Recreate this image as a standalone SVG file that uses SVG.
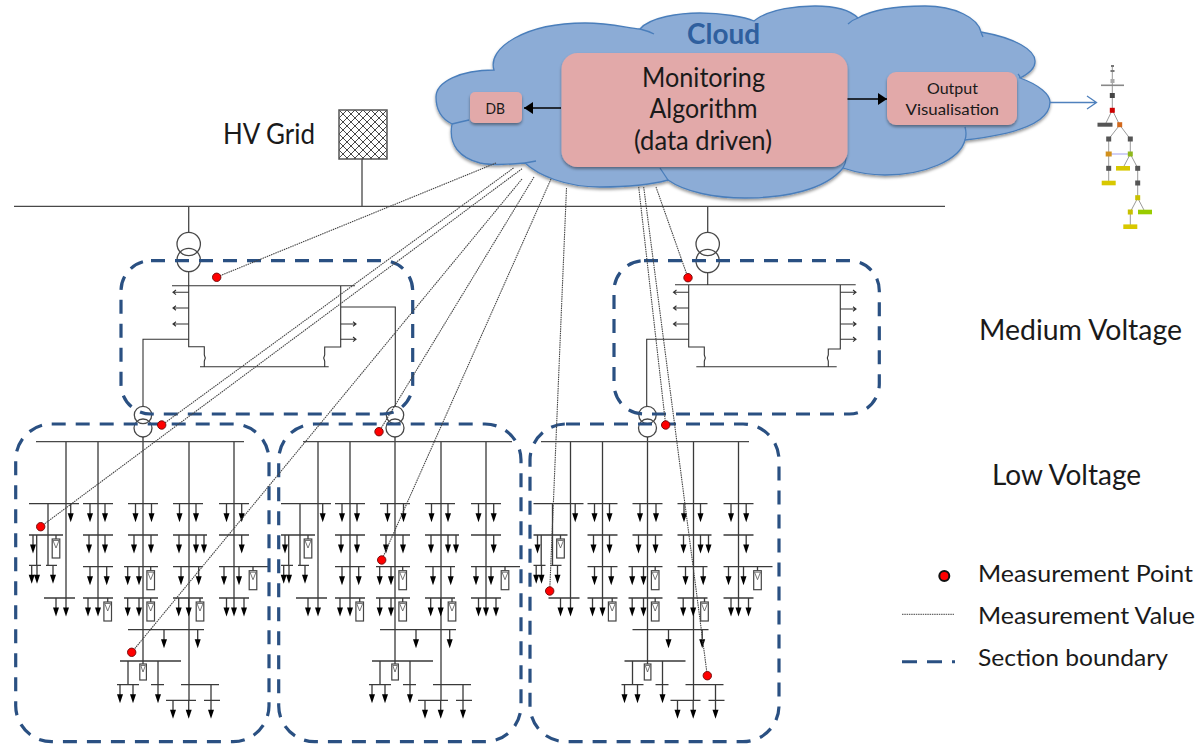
<svg xmlns="http://www.w3.org/2000/svg" width="1200" height="746" viewBox="0 0 1200 746">
<style>
text{font-family:"Lato","Noto Sans","Liberation Sans",sans-serif;fill:#1a1a1a}
.w{fill:none;stroke:#3a3a3a;stroke-width:1.3}
.t{fill:none;stroke:#484848;stroke-width:1.3}
.mv{fill:none;stroke:#333;stroke-width:1.1}
.sec{fill:none;stroke:#2a5082;stroke-width:3.2;stroke-dasharray:14 10}
.dot{fill:#f00;stroke:#7a1010;stroke-width:1}
.box{fill:#e2a9a9;filter:url(#sh)}
.lnk{stroke:#000;stroke-width:1.6;fill:none}
.tn{stroke:none}
</style>
<defs>
<filter id="sh" x="-10%" y="-10%" width="120%" height="125%"><feDropShadow dx="0" dy="2" stdDeviation="1.8" flood-color="#000" flood-opacity=".4"/></filter>
<filter id="bl" x="-10%" y="-10%" width="120%" height="120%"><feGaussianBlur stdDeviation=".6"/></filter>
<marker id="solid" markerUnits="userSpaceOnUse" markerWidth="10" markerHeight="12" refX="9" refY="6" orient="auto"><path d="M0 0L9 6L0 12Z" fill="#000"/></marker>
<pattern id="hatch" width="8" height="8" patternUnits="userSpaceOnUse" patternTransform="translate(339 110)"><rect width="8" height="8" fill="#fff"/><path d="M0 0L8 8M8 0L0 8" stroke="#333" stroke-width=".9"/></pattern>
<g id="a"><path d="M0 0V11" class="w"/><path d="M-3 9.500H3L0 18.500Z" fill="#000"/></g>
<g id="m"><path d="M0 0V4" class="w"/><rect x="-3.800" y="4" width="7.600" height="19" fill="#fff" stroke="#444" stroke-width="1.200"/><path d="M-3 5.500H3L0 13Z" fill="#fff" stroke="#555" stroke-width=".8"/></g>
<g id="lv-net">
<circle cx="143" cy="415" r="8.700" class="t"/><circle cx="143" cy="428" r="9" class="t"/>
<path class="w" d="M143 437V664M66 442V598M98 442V598M189 442V700.300M234 442V598
M29 503.700H79M48 503.700V565.300M83 503.700H113M128 503.700H158M173 503.700H203M219 503.700H249
M29 535H63M36.700 535V565.300M83 535H113M128 535H158M173 535H207M219 535H249
M29 565.300H41M46 565.300H57M83 566.700H113M124 566.700H158M173 566.700H203M219 566.700H268
M44 598H75M83 598H113M124 598H158M173 598H203M219 598H249
M128 629.700H204M120 661H181M128 661V684.700M158 661V684.700
M117 684.700H139M151 684.700H164M181 684.700H219M211 684.700V700.300M166 700.300H196M204 700.300H220"/>
<use href="#a" x="70.700" y="503.700"/><use href="#a" x="90" y="503.700"/><use href="#a" x="105" y="503.700"/><use href="#a" x="135.500" y="503.700"/><use href="#a" x="151.500" y="503.700"/><use href="#a" x="179.500" y="503.700"/><use href="#a" x="196" y="503.700"/><use href="#a" x="226.500" y="503.700"/><use href="#a" x="241.700" y="503.700"/>
<use href="#a" x="33" y="535"/><use href="#m" x="56" y="535"/><use href="#a" x="89" y="535"/><use href="#a" x="105" y="535"/><use href="#a" x="134" y="535"/><use href="#a" x="151" y="535"/><use href="#a" x="179" y="535"/><use href="#a" x="196" y="535"/><use href="#a" x="204" y="535"/><use href="#a" x="241.700" y="535"/>
<use href="#a" x="31.700" y="565.300"/><use href="#a" x="37" y="565.300"/><use href="#a" x="53" y="565.300"/><use href="#a" x="90" y="566.700"/><use href="#a" x="106.700" y="566.700"/><use href="#a" x="127.700" y="566.700"/><use href="#a" x="139" y="566.700"/><use href="#m" x="150.700" y="566.700"/><use href="#a" x="181" y="566.700"/><use href="#a" x="198.700" y="566.700"/><use href="#a" x="224" y="566.700"/><use href="#a" x="239" y="566.700"/><use href="#m" x="253" y="566.700"/>
<use href="#a" x="56" y="598"/><use href="#a" x="66" y="598"/><use href="#a" x="88" y="598"/><use href="#a" x="98" y="598"/><use href="#m" x="107.700" y="598"/><use href="#a" x="127.700" y="598"/><use href="#a" x="139" y="598"/><use href="#m" x="150.700" y="598"/><use href="#a" x="178.700" y="598"/><use href="#a" x="188.700" y="598"/><use href="#m" x="200" y="598"/><use href="#a" x="226.500" y="598"/><use href="#a" x="234" y="598"/><use href="#a" x="244" y="598"/>
<use href="#a" x="164" y="629.700"/><use href="#a" x="197.700" y="629.700"/>
<rect x="139.800" y="664" width="6.600" height="16" fill="#fff" stroke="#444" stroke-width="1.200"/><path d="M140.800 665.500H145.400L143 672Z" fill="#fff" stroke="#555" stroke-width=".8"/>
<use href="#a" x="120" y="684.700"/><use href="#a" x="133" y="684.700"/><use href="#a" x="158" y="684.700"/>
<use href="#a" x="173" y="700.300"/><use href="#a" x="188.700" y="700.300"/><use href="#a" x="211" y="700.300"/>
</g>
</defs>
<rect width="1200" height="746" fill="#fff"/>

<g id="cloud">
<path d="M494 70C487 48 525 23 585 23C610 23 628 28 640 29C650 17 680 13 700 13C722 13 745 17 754 21C770 8 800 6 815 6C835 6 850 10 858 18C875 8 900 6 925 6C955 6 978 18 981 32C1015 38 1036 50 1035 62C1035 68 1028 74 1020 78C1040 85 1050 95 1050 102C1050 125 1010 135 965 140C960 160 925 175 885 175C870 175 855 172 843 168C825 190 785 198 745 198C715 198 685 192 668 180C650 185 625 187 600 187C565 187 538 175 525 163C505 165 490 165 480 163C460 158 448 145 452 124C440 118 436 108 436 97C436 82 460 70 494 70Z" fill="#8cacd6" stroke="#4a7ebb" stroke-width="1.300" filter="url(#sh)"/>
<path d="M640 29Q648 31 654 34M858 18Q852 20 848 24M981 32Q982 35 983 37M1020 78Q1020 76 1018 74M965 140Q967 134 965 127M525 163L536 161M452 124Q460 122 469 120M843 168Q846 163 846 157M668 180Q664 174 660 168" fill="none" stroke="#4a7ebb" stroke-width="1.300"/>
<text x="687" y="44" font-size="28" font-weight="700" style="fill:#2f5f9e" textLength="73" lengthAdjust="spacingAndGlyphs">Cloud</text>
</g>
<g id="monitoring"><rect class="box" x="561.500" y="53" width="286" height="114" rx="16"/>
<text x="642" y="87" font-size="26" textLength="123" lengthAdjust="spacingAndGlyphs">Monitoring</text>
<text x="649.500" y="118" font-size="26" textLength="108" lengthAdjust="spacingAndGlyphs">Algorithm</text>
<text x="634" y="150" font-size="26" textLength="138" lengthAdjust="spacingAndGlyphs">(data driven)</text></g>
<g id="db"><rect class="box" x="470" y="92" width="52" height="31" rx="5"/><text x="485.500" y="113.500" font-size="16" textLength="19.500" lengthAdjust="spacingAndGlyphs">DB</text></g>
<g id="output"><rect class="box" x="887" y="72" width="130" height="53" rx="9"/>
<text x="927" y="93.500" font-size="16" textLength="51" lengthAdjust="spacingAndGlyphs">Output</text>
<text x="905.500" y="114.500" font-size="16" textLength="93.500" lengthAdjust="spacingAndGlyphs">Visualisation</text></g>

<g id="hv-grid"><text x="223" y="144" font-size="28" textLength="92" lengthAdjust="spacingAndGlyphs">HV Grid</text>
<rect x="339" y="110" width="48" height="49" fill="url(#hatch)" stroke="#555" stroke-width="1.500"/></g>

<g id="tree" filter="url(#bl)">
<path d="M1112.300 66V110M1112.300 110L1105 125M1112.300 110L1119.700 125M1119.700 125L1108.700 139M1119.700 125L1130.300 139M1108.700 139V183M1130.300 139V154M1130.300 154L1123 168M1130.300 154L1137.700 168M1137.700 168V198M1137.700 198L1130.300 212M1137.700 198L1145 212M1130.300 212V227" fill="none" stroke="#999" stroke-width="1"/>
<path d="M1108.700 154H1130.300" stroke="#c5c5f5" stroke-width="1.600"/>
<g class="tn">
<rect x="1111" y="65" width="3" height="2" fill="#777"/><rect x="1110.500" y="70" width="4" height="2" fill="#777"/><rect x="1110.500" y="79" width="4" height="4" fill="#aaa"/><rect x="1101" y="84.500" width="23" height="1.600" fill="#888"/>
<rect x="1109.800" y="93" width="5" height="5" fill="#444"/><rect x="1109.800" y="107.800" width="5" height="5" fill="#c00"/><rect x="1097.500" y="122.700" width="15" height="4" fill="#555"/><rect x="1117.200" y="122.200" width="5" height="5" fill="#d2691e"/>
<rect x="1106.200" y="136.500" width="5" height="5" fill="#555"/><rect x="1127.800" y="136.500" width="5" height="5" fill="#555"/>
<rect x="1105.700" y="151.500" width="6" height="5" fill="#d2901e"/><rect x="1127.800" y="151.500" width="5" height="5" fill="#8fb81e"/>
<rect x="1106.200" y="165.800" width="5" height="5" fill="#555"/><rect x="1116" y="166" width="14" height="4.600" fill="#d8c800"/><rect x="1135.200" y="165.800" width="5" height="5" fill="#555"/>
<rect x="1101.700" y="180.700" width="14" height="4.600" fill="#d8c800"/><rect x="1135.200" y="180.500" width="5" height="5" fill="#555"/>
<rect x="1135.200" y="195.200" width="5" height="5" fill="#c8c000"/><rect x="1127.800" y="209.500" width="5" height="5" fill="#c8c000"/><rect x="1138" y="209.700" width="14" height="4.600" fill="#9c0"/><rect x="1123.300" y="224.400" width="14" height="4.600" fill="#d8c800"/>
</g></g>

<g id="grid-bus"><path class="t" d="M14 206.300H945M362 159V206M188.700 206V232M707.700 206V232"/></g>

<g id="mv-left">
<circle cx="188.700" cy="244" r="11.700" class="t"/><circle cx="188.700" cy="260" r="11.700" class="t"/>
<path class="mv" d="M188.700 272V346.700H204.300V355l1 3-1 3V366.700M340.700 285.700V347H324.700V355l-1 3 1 3V366.700M172 285.700H355M200 366.700H328.700M188.700 339.300H143V407M340.700 307H395.300V407"/>
<path class="mv" d="M188.700 292.300H173M176 290l-3 2.300 3 2.300M188.700 308H173M176 305.700l-3 2.300 3 2.300M188.700 324H173M176 321.700l-3 2.300 3 2.300M340.700 324H356M353 321.700l3 2.300-3 2.300M340.700 339.300H356M353 337l3 2.300-3 2.300"/>
</g>
<g id="mv-right">
<circle cx="707.700" cy="244" r="11.700" class="t"/><circle cx="707.700" cy="261" r="11.700" class="t"/>
<path class="mv" d="M707.700 273V284.700M675 284.700H855.700M688.700 284.700V347H704.300V355l1 3-1 3V366.700M840.300 284.700V349H828.300V355l-1 3 1 3V366.700M696.300 366.700H836.700M688.700 339.300H646.700V407"/>
<path class="mv" d="M688.700 292.300H673.500M676.500 290l-3 2.300 3 2.300M688.700 308H673.500M676.500 305.700l-3 2.300 3 2.300M688.700 324H673.500M676.500 321.700l-3 2.300 3 2.300M840.300 292.300H856M853 290l3 2.300-3 2.300M840.300 309H856M853 306.700l3 2.300-3 2.300M840.300 324H856M853 321.700l3 2.300-3 2.300M840.300 339.300H856M853 337l3 2.300-3 2.300"/>
</g>
<g id="lv-1"><use href="#lv-net"/><path class="t" d="M36 441.700H244"/></g>
<g id="lv-2"><use href="#lv-net" x="252"/><path class="t" d="M303 441.700H512"/></g>
<g id="lv-3"><use href="#lv-net" x="504.500"/><path class="t" d="M541 441.700H749"/></g>

<g id="sections">
<rect class="sec" x="121" y="260.700" width="291.700" height="153.300" rx="30"/>
<rect class="sec" x="614" y="260.700" width="265.300" height="153.300" rx="30"/>
<rect class="sec" x="15.700" y="424" width="253.300" height="317.700" rx="36"/>
<rect class="sec" x="278.700" y="424" width="242.300" height="317.700" rx="36"/>
<rect class="sec" x="530" y="424" width="249" height="317.700" rx="36"/>
</g>

<g id="connectors">
<path d="M496 163L217 277M513.500 168L162 425M522 168.700L40.700 526.700M522 179L131.700 652.300M534 177L379 431.700M551 179L381.700 560M566.500 188L549.700 591M638.700 187L665.700 425M643.700 187L707.300 675.700M656 187L688 277.700" fill="none" stroke="#444" stroke-width="1.100" stroke-dasharray="1.500 .8"/>
<path class="lnk" d="M561 108H524" marker-end="url(#solid)"/>
<path class="lnk" d="M847.500 99H887" marker-end="url(#solid)"/>
<path d="M1050 102.500H1096M1087 96L1096.500 102.500L1087 109" fill="none" stroke="#4f81bd" stroke-width="1.300"/>
</g>

<g id="points">
<circle class="dot" cx="216.700" cy="277.300" r="4.200"/><circle class="dot" cx="161.700" cy="425" r="4.200"/><circle class="dot" cx="379" cy="431.700" r="4.200"/><circle class="dot" cx="688" cy="277.700" r="4.200"/><circle class="dot" cx="665.700" cy="425" r="4.200"/><circle class="dot" cx="40.700" cy="526.700" r="4.200"/><circle class="dot" cx="131.700" cy="652.300" r="4.200"/><circle class="dot" cx="381.700" cy="560" r="4.200"/><circle class="dot" cx="549.700" cy="591" r="4.200"/><circle class="dot" cx="707.300" cy="675.700" r="4.200"/>
</g>

<g id="labels">
<text x="979" y="340" font-size="28" textLength="203" lengthAdjust="spacingAndGlyphs">Medium Voltage</text>
<text x="992" y="485" font-size="28" textLength="149" lengthAdjust="spacingAndGlyphs">Low Voltage</text>
</g>
<g id="legend">
<circle cx="944.300" cy="576" r="5" fill="#f00" stroke="#111" stroke-width="2"/>
<text x="978" y="581.500" font-size="24" textLength="215" lengthAdjust="spacingAndGlyphs">Measurement Point</text>
<path d="M902 614.300H954" stroke="#444" stroke-width="1" stroke-dasharray="1.500 .8"/>
<text x="978" y="624.300" font-size="24" textLength="217" lengthAdjust="spacingAndGlyphs">Measurement Value</text>
<path d="M902 661.700H955" stroke="#2a5082" stroke-width="3" stroke-dasharray="15 10"/>
<text x="978" y="666" font-size="24" textLength="190" lengthAdjust="spacingAndGlyphs">Section boundary</text>
</g>
</svg>
